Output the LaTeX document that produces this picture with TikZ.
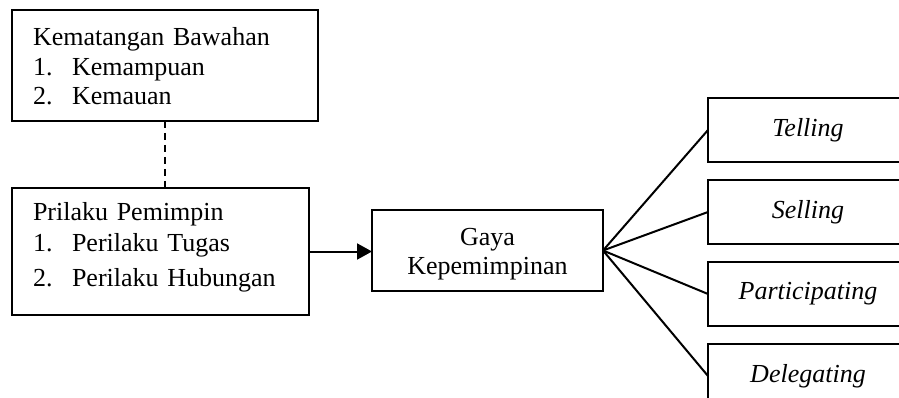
\documentclass[tikz,border=0pt]{standalone}
\usepackage{fontspec}
\setmainfont{Liberation Serif}
\usetikzlibrary{arrows.meta,positioning}

\begin{document}
\begin{tikzpicture}[
      x=1pt,y=-1pt,
      txt/.style={font=\fontsize{26}{29.5}\selectfont},
      listbox/.style={draw,line width=2pt,outer sep=0pt,inner xsep=21pt,inner ysep=0pt,
                  txt,text width=264pt,align=left,anchor=north west},
      gayabox/.style={draw,line width=2pt,outer sep=0pt,inner sep=0pt,txt,
                  text width=231pt,align=center,anchor=north west},
      stylebox/.style={draw,line width=2pt,outer sep=0pt,minimum width=200pt,
                  minimum height=64pt,txt,font=\itshape\fontsize{26}{29.5}\selectfont},
      ar/.style={-{Triangle[length=15pt,width=16pt]},line width=2pt},
      ln/.style={line width=2pt}
    ]
    \useasboundingbox (0,0) rectangle (899,398);

    \node[listbox,text height=36pt,text depth=75pt] (kb) at (12,10)
      {Kematangan Bawahan\\
       \makebox[39pt][l]{1.}Kemampuan\\
       \makebox[39pt][l]{2.}Kemauan};
    \node[listbox,text width=255pt,text height=33pt,text depth=94pt] (pp) at (12,188)
      {Prilaku Pemimpin\\[1.5pt]
       \makebox[39pt][l]{1.}Perilaku Tugas\\[5.5pt]
       \makebox[39pt][l]{2.}Perilaku Hubungan};

    \node[gayabox,text height=35pt,text depth=46pt] (gk) at (372,210)
      {Gaya\\Kepemimpinan};

    \node[stylebox,anchor=north west] (tel) at (708,98) {Telling};
    \node[stylebox,below=18pt of tel] (sel) {Selling};
    \node[stylebox,below=18pt of sel] (par) {Participating};
    \node[stylebox,below=18pt of par] (del) {Delegating};

    \draw[line width=1.5pt,dash pattern=on 7pt off 5pt] (kb.south) -- (kb.south |- pp.north);
    \draw[ar] (pp.east) -- (pp.east -| gk.west);
    \foreach \s in {tel,sel,par,del} \draw[ln] (gk.east) -- (\s.west);
  \end{tikzpicture}
\end{document}
